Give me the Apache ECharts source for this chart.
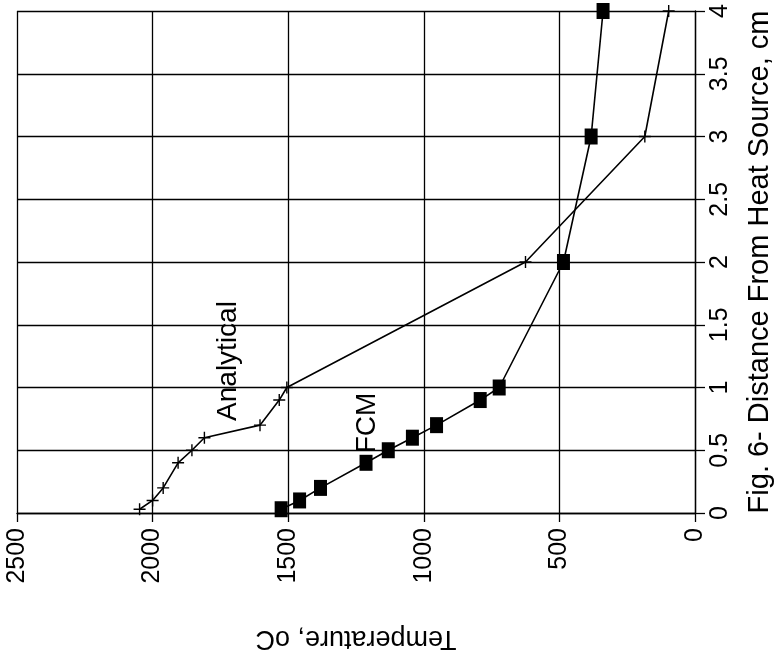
<!DOCTYPE html>
<html>
<head>
<meta charset="utf-8">
<script src="https://cdn.jsdelivr.net/npm/echarts@6/dist/echarts.min.js"></script>
<style>
  html, body { margin: 0; padding: 0; background: #fff; }
  #main { width: 782px; height: 657px; }
</style>
</head>
<body>
<div id="main"></div>
<script>
// distance from heat source (cm) and temperature (oC)
const distAnalytical = [0.03, 0.1, 0.2, 0.4, 0.5, 0.6, 0.7, 0.9, 1.0, 2.0, 3.0, 4.0]
const tempAnalytical = [2048, 2000, 1961, 1906, 1855, 1809, 1604, 1533, 1505, 625, 185, 97]
const distFCM = [0.03, 0.1, 0.2, 0.4, 0.5, 0.6, 0.7, 0.9, 1.0, 2.0, 3.0, 4.0]
const tempFCM = [1526, 1458, 1381, 1213, 1131, 1042, 953, 792, 722, 485, 383, 339]

const FONT = 'Liberation Sans'

function pairs (temps, dists) {
  return temps.map((t, i) => [t, dists[i]])
}

const chart = echarts.init(document.getElementById('main'))
chart.setOption({
  animation: false,
  backgroundColor: '#fff',
  textStyle: { fontFamily: FONT, color: '#000' },
  grid: { left: 17, right: 85, top: 11, bottom: 136 },
  xAxis: {
    type: 'value',
    inverse: true,
    min: 0,
    max: 2500,
    interval: 500,
    position: 'bottom',
    name: 'Temperature, oC',
    nameLocation: 'middle',
    nameGap: 112,
    nameRotate: 180,
    nameTextStyle: { fontSize: 27, color: '#000', fontFamily: FONT },
    axisLine: { show: true, lineStyle: { color: '#000', width: 1.3 } },
    axisTick: { show: true, length: 9, lineStyle: { color: '#000', width: 1.3 } },
    axisLabel: {
      rotate: 90,
      margin: 15,
      fontSize: 25,
      color: '#000',
      fontFamily: FONT,
      formatter: v => String(v)
    },
    splitLine: { show: true, lineStyle: { color: '#000', width: 1.3 } }
  },
  yAxis: {
    type: 'value',
    min: 0,
    max: 4,
    interval: 0.5,
    position: 'right',
    name: 'Fig. 6- Distance From Heat Source, cm',
    nameLocation: 'middle',
    nameGap: 50,
    nameRotate: 90,
    nameTextStyle: { fontSize: 29, color: '#000', fontFamily: FONT },
    axisLine: { show: true, lineStyle: { color: '#000', width: 1.3 } },
    axisTick: { show: true, length: 10, lineStyle: { color: '#000', width: 1.3 } },
    axisLabel: {
      rotate: 90,
      margin: 13,
      fontSize: 25,
      color: '#000',
      fontFamily: FONT,
      formatter: v => String(v)
    },
    splitLine: { show: true, lineStyle: { color: '#000', width: 1.3 } }
  },
  series: [
    {
      name: 'Analytical',
      type: 'line',
      data: pairs(tempAnalytical, distAnalytical),
      symbol: 'path://M5,0L5,10M0,5L10,5',
      symbolSize: 12,
      lineStyle: { color: '#000', width: 1.6 },
      itemStyle: { color: 'transparent', borderColor: '#000', borderWidth: 1.4 }
    },
    {
      name: 'FCM',
      type: 'line',
      data: pairs(tempFCM, distFCM),
      symbol: 'rect',
      symbolSize: [13, 16],
      lineStyle: { color: '#000', width: 1.6 },
      itemStyle: { color: '#000' }
    }
  ],
  graphic: [
    {
      type: 'text',
      x: 228,
      y: 361,
      rotation: Math.PI / 2,
      style: { text: 'Analytical', font: '28px "Liberation Sans"', fill: '#000', align: 'center', verticalAlign: 'middle' }
    },
    {
      type: 'text',
      x: 367,
      y: 423,
      rotation: Math.PI / 2,
      style: { text: 'FCM', font: '28px "Liberation Sans"', fill: '#000', align: 'center', verticalAlign: 'middle' }
    }
  ]
})
</script>
</body>
</html>
